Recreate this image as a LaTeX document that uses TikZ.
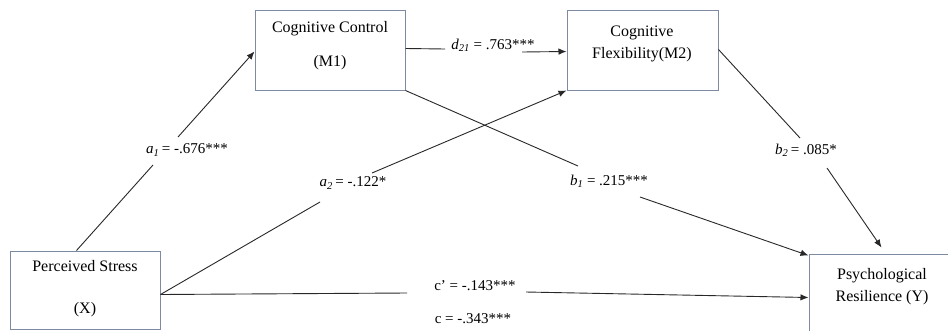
\documentclass[tikz,border=0pt]{standalone}
\usepackage{fontspec}
\setmainfont{Liberation Serif}
\usetikzlibrary{arrows.meta,calc}
\definecolor{boxcol}{RGB}{125,138,162}
\definecolor{linecol}{RGB}{40,40,40}
\newcommand\sublab[2]{\textit{#1}\textsubscript{\textit{#2}}}
\tikzset{
  box/.style={draw=boxcol, line width=1pt, inner sep=0pt, fill=white},
  boxtext/.style={inner sep=0pt, font=\rmfamily\fontsize{16}{19}\selectfont},
  labtext/.style={inner sep=1pt, font=\rmfamily\fontsize{15}{18}\selectfont},
  ln/.style={draw=linecol, line width=0.9pt},
  arr/.style={ln, -{Latex[length=8pt,width=6.5pt]}}
}
\begin{document}
\begin{tikzpicture}[x=1pt,y=-1pt]
\clip (0,0) rectangle (948,330);
\fill[white] (0,0) rectangle (948,330);
% boxes
\node[box, minimum width=150, minimum height=80] (m1) at (330,50) {};
\node[box, minimum width=151, minimum height=80] (m2) at (642.5,50) {};
\node[box, minimum width=150, minimum height=78] (x) at (85,290) {};
\node[box, minimum width=150, minimum height=100] (y) at (884,304) {};
% box texts
\node[boxtext] (m1a) at (330,29) {Cognitive Control};
\node[boxtext] (m1b) at (330,63) {(M1)};
\node[boxtext] (m2a) at (642,33) {Cognitive};
\node[boxtext] (m2b) at (642,55) {Flexibility(M2)};
\node[boxtext] (xa) at (85,266) {Perceived Stress};
\node[boxtext] (xb) at (85,310) {(X)};
\node[boxtext] (ya) at (882,276) {Psychological};
\node[boxtext] (yb) at (882,298) {Resilience (Y)};
% break points
\coordinate (a1b) at (153,165); \coordinate (a1c) at (178,137);
\coordinate (a2b) at (320,202); \coordinate (a2c) at (372,173);
\coordinate (d21b) at (445,49); \coordinate (d21c) at (522,52);
\coordinate (b1b) at (578,166); \coordinate (b1c) at (640,197);
\coordinate (b2b) at (800,138); \coordinate (b2c) at (827,168);
\coordinate (cb) at (407,293); \coordinate (cc) at (526,292);
% connectors
\draw[ln] ($(x.north west)+(67,0)$) -- (a1b);
\draw[arr] (a1c) -- ($(m1.north west)+(0,42)$);
\draw[ln] ($(x.north east)+(0,44)$) -- (a2b);
\draw[arr] (a2c) -- (m2.south west);
\draw[ln] ($(m1.north east)+(0,39)$) -- (d21b);
\draw[arr] (d21c) -- ($(m2.north west)+(0,42)$);
\draw[ln] (m1.south east) -- (b1b);
\draw[arr] (b1c) -- ($(y.north west)+(0,2)$);
\draw[ln] ($(m2.north east)+(0,40)$) -- (b2b);
\draw[arr] (b2c) -- ($(y.north west)+(73,-6)$);
\draw[ln] ($(x.north east)+(0,44)$) -- (cb);
\draw[arr] (cc) -- ($(y.north west)+(0,44)$);
% labels
\node[labtext] (la1) at (187,150) {\sublab{a}{1}\,= -.676***};
\node[labtext] (la2) at (353,183) {\sublab{a}{2}\,= -.122*};
\node[labtext] (ld21) at (493,45) {\sublab{d}{21} = .763***};
\node[labtext] (lb1) at (609,181) {\sublab{b}{1} = .215***};
\node[labtext] (lb2) at (806,150) {\sublab{b}{2}\,= .085*};
\node[labtext] (lcp) at (475,286) {c’ = -.143***};
\node[labtext] (lc) at (473,319) {c = -.343***};
\end{tikzpicture}
\end{document}
